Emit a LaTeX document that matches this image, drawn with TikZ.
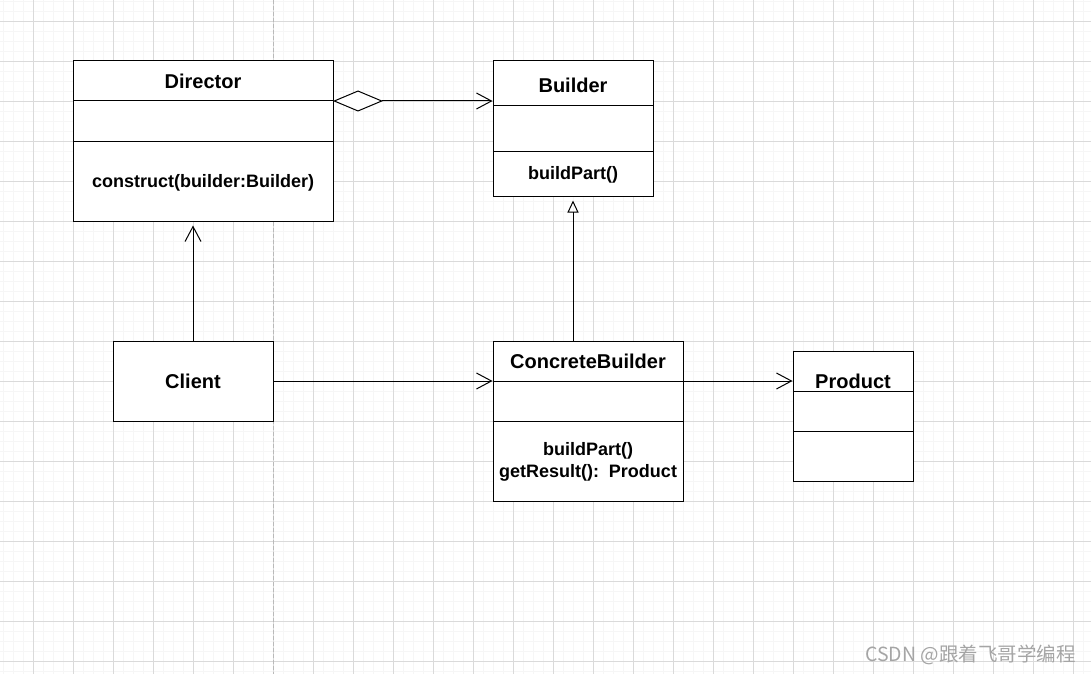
\documentclass[tikz,border=0pt]{standalone}
\usepackage{fontspec}
\setmainfont{Liberation Sans}
\newfontfamily\cjkfont{Noto Sans CJK SC}
\usetikzlibrary{arrows.meta}
\definecolor{minorgrid}{RGB}{246,246,246}
\definecolor{majorgrid}{RGB}{218,218,218}
\definecolor{dashgray}{RGB}{185,185,185}
\definecolor{wmgray}{RGB}{165,165,165}
\tikzset{
  umlbox/.style={draw=black, line width=1pt, rectangle, inner sep=0pt, fill=white},
  titletext/.style={font=\bfseries\fontsize{20}{24}\selectfont, inner sep=0pt},
  bodytext/.style={font=\bfseries\fontsize{18}{22}\selectfont, inner sep=0pt, align=center, yshift=-2pt},
  divider/.style={line width=1pt},
  conn/.style={line width=1pt, -{Straight Barb[length=15pt,width=16pt,line width=1pt]}},
  inherit/.style={line width=1pt, -{Triangle[open,length=12pt,width=11pt,line width=1pt]}},
  aggr/.style={line width=1pt, {Diamond[open,length=50pt,width=21pt,line width=1pt,fill=white]}-{Straight Barb[length=15pt,width=16pt,line width=1pt]}},
}
\begin{document}
\begin{tikzpicture}[x=1pt,y=-1pt]
\useasboundingbox (0,0) rectangle (1091,674);
\fill[white] (0,0) rectangle (1091,674);
% grid
\foreach \i in {0,...,109} {\draw[minorgrid, line width=0.8pt] (3+10*\i,0) -- (3+10*\i,674);}
\foreach \j in {0,...,67} {\draw[minorgrid, line width=0.8pt] (0,1+10*\j) -- (1091,1+10*\j);}
\foreach \i in {0,...,26} {\draw[majorgrid, line width=0.8pt] (33+40*\i,0) -- (33+40*\i,674);}
\foreach \j in {0,...,16} {\draw[majorgrid, line width=0.8pt] (0,21+40*\j) -- (1091,21+40*\j);}
\draw[dashgray, line width=0.8pt, dash pattern=on 4pt off 2pt] (273,0) -- (273,674);

% Director
\node[umlbox, minimum width=260pt, minimum height=160pt] (dir) at (203,141) {};
\draw[divider] (73,101) -- (333,101);
\draw[divider] (73,141) -- (333,141);
\node[titletext] (dirT) at (203,81) {Director};
\node[bodytext] (dirM) at (203,181) {construct(builder:Builder)};

% Builder
\node[umlbox, minimum width=160pt, minimum height=135pt] (bld) at (573,128.5) {};
\draw[divider] (493,106) -- (653,106);
\draw[divider] (493,151) -- (653,151);
\node[titletext] (bldT) at (573,85) {Builder};
\node[bodytext] (bldM) at (573,173) {buildPart()};

% Client
\node[umlbox, minimum width=160pt, minimum height=80pt] (cli) at (193,381) {};
\node[titletext] (cliT) at (193,381) {Client};

% ConcreteBuilder
\node[umlbox, minimum width=190pt, minimum height=160pt] (cb) at (588,421) {};
\draw[divider] (493,381) -- (683,381);
\draw[divider] (493,421) -- (683,421);
\node[titletext] (cbT) at (588,361) {ConcreteBuilder};
\node[bodytext] (cbM1) at (588,449) {buildPart()};
\node[bodytext] (cbM2) at (588,471) {getResult():\ \ Product};

% Product
\node[umlbox, minimum width=120pt, minimum height=130pt] (prod) at (853,416) {};
\draw[divider] (793,391) -- (913,391);
\draw[divider] (793,431) -- (913,431);
\node[titletext] (prodT) at (853,381) {Product};

% connectors
\coordinate (dirA) at (333,101);
\draw[aggr] (dirA) -- (bld.west |- dirA);
\draw[conn, shorten >=4pt] (cli.north) -- (cli.north |- dir.south);
\draw[inherit, shorten >=4pt] (bld.south |- cb.north) -- (bld.south);
\draw[conn] (cli.east) -- (cb.west |- cli.east);
\draw[conn] (cb.east |- cli.east) -- (prod.west |- cli.east);

% watermark
\node[font=\cjkfont\fontsize{19.5}{23}\selectfont, text=wmgray, anchor=east, inner sep=0pt] (wm) at (1076,655) {CSDN @跟着飞哥学编程};
\end{tikzpicture}
\end{document}
